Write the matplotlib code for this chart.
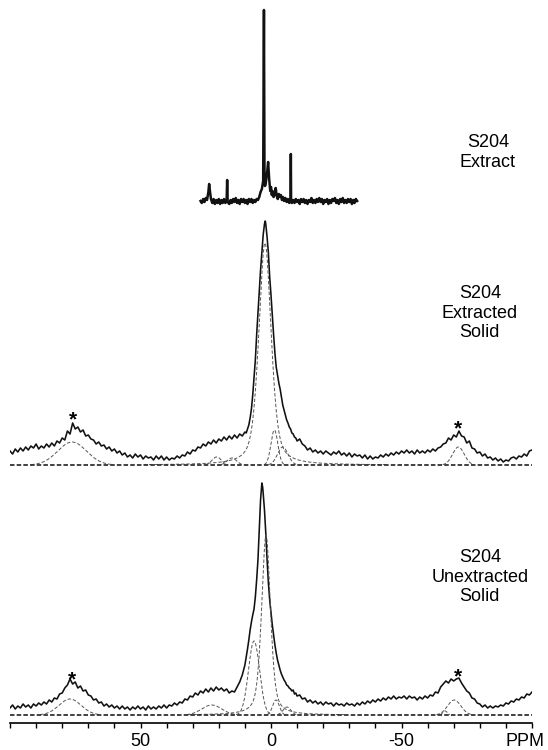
import matplotlib
matplotlib.use("Agg")
import matplotlib.pyplot as plt
import numpy as np

plt.rcParams['font.family'] = ['Liberation Sans', 'DejaVu Sans']

# ---- S204 Extract (solution spectrum, 27 to -33 ppm) ----
extract_ppm = [27, 26.5, 26, 25.5, 25, 24.5, 24, 23.7, 23.4, 23, 22.5, 22, 21.5, 21, 20.5, 20,
               19.5, 19, 18.5, 18, 17.5, 17, 16.8, 16.6, 16, 15.5, 15, 14.5, 14, 13.5, 13,
               12.5, 12, 11.5, 11, 10.5, 10, 9.5, 9, 8.5, 8, 7.5, 7, 6.5, 6, 5.5, 5, 4.5, 4,
               3.5, 3, 2.7, 2.5, 2.3, 2, 1.5, 1.1, 0.7, 0.3, 0, -0.3, -0.6, -1, -1.5, -1.8,
               -2.2, -2.6, -3, -3.4, -3.8, -4.2, -4.6, -5, -5.5, -6, -6.5, -7, -7.5, -7.6, -7.7,
               -8, -8.5, -9, -9.5, -10] + list(np.arange(-10.5, -33.1, -0.5))
extract_int = [0, -2, 2, -1, 3, 1, 9, 17, 10, 2, -2, 2, -3, 1, -2, 2,
               -3, 1, -2, 2, -2, 0, 21, -1, -3, 1, -2, 2, -1, 3, -2,
               1, -3, 2, -1, 2, -2, 1, -3, 2, -1, 2, -2, 1, -1, 2, 1, 4, 9,
               12, 20, 191, 30, 15, 18, 28, 39, 22, 10, 14, 6, 10, 4, 8, 13,
               5, 2, 7, 4, 6, 1, 4, 0, 3, -1, 2, -2, 1, 47, 0,
               -2, 1, -2, 2, -1,
               1, -3, 2, -1, 2, -2, 1, -3, 1, -1, 3, -2, 1, -2, 2, -1, 3, -1, 2, -3,
               1, -1, 2, -3, 1, -2, 2, 0, 3, -2, 1, -3, 2, -1, 3, -2, 1, -2, 2, -1,
               2, -3, 1, -2, 2, 0]

# ---- S204 Extracted Solid ----
exs_left = [14, 11, 16, 13, 17, 14, 18, 15, 19, 17,
            21, 16, 19, 17, 21, 18, 22, 19, 24, 22,
            27, 25, 34, 31, 42, 36, 38, 33, 35, 29,
            30, 26, 25, 21, 23, 19, 20, 16, 18, 14,
            16, 12, 14, 10, 12, 8, 10, 7, 11, 8,
            10, 6, 9, 7, 8, 5, 9, 6, 9, 5,
            8, 5, 7, 6, 9, 7, 10, 9, 13, 11,
            15, 14, 18, 17, 21, 19, 23, 21, 25, 22,
            26, 24, 28, 25, 29, 26, 30, 27, 31, 29,
            33]
exs_mid_ppm = [9.5, 9, 8.5, 8, 7.5, 7, 6.5, 6, 5.5, 5, 4.5, 4, 3.5, 3, 2.5, 2.2, 2, 1.5, 1, 0.5,
               0, -0.5, -1, -1.5, -2, -2.5, -3, -3.5, -4, -4.5, -5, -5.5, -6, -6.5, -7, -7.5,
               -8, -8.5, -9, -9.5]
exs_mid = [32, 36, 40, 47, 56, 70, 88, 105, 130, 152, 175, 195, 212, 230, 241, 244, 241, 228, 212, 188,
           170, 150, 130, 112, 98, 90, 82, 76, 68, 60, 55, 50, 45, 42, 38, 36,
           32, 31, 28, 27]
exs_right = [24, 26, 21, 19, 15, 17, 13, 15, 12, 14,
             11, 14, 12, 10, 13, 11, 14, 10, 12, 9,
             12, 8, 11, 9, 10, 7, 10, 6, 9, 6,
             8, 7, 10, 8, 11, 9, 12, 10, 13, 11,
             14, 12, 15, 12, 14, 11, 15, 12, 14, 12,
             15, 13, 16, 14, 17, 18, 21, 22, 27, 25,
             30, 28, 34, 29, 28, 22, 24, 17, 16, 12,
             13, 9, 11, 7, 8, 5, 7, 4, 6, 3,
             5, 4, 7, 8, 6, 9, 8, 11, 9, 14,
             15]
exs_fit_center = [76.2, 20.8, 15.0, 2.3, -1.3, -4.5, -71.8]
exs_fit_height = [23, 8, 7, 222, 35, 18, 18]
exs_fit_fwhm = [13, 4.2, 4.2, 5.6, 3.1, 4.7, 5.2]
exs_fit_lorentz = [0, 0, 0, 0.5, 0, 0, 0]

# ---- S204 Unextracted Solid ----
uns_left = [7, 10, 6, 9, 7, 11, 8, 10, 7, 11,
            9, 12, 10, 13, 11, 15, 13, 17, 16, 21,
            22, 27, 30, 36, 31, 33, 27, 29, 24, 25,
            20, 19, 15, 16, 12, 13, 9, 11, 8, 10,
            7, 9, 6, 9, 6, 8, 5, 8, 6, 9,
            6, 8, 5, 9, 6, 8, 6, 9, 7, 10,
            7, 10, 9, 12, 10, 13, 12, 16, 15, 19,
            18, 22, 20, 24, 22, 26, 23, 27, 24, 28,
            25, 27, 24, 26, 22, 24, 23, 28, 33, 40,
            50]
uns_mid_ppm = [9.5, 9, 8.5, 8, 7.5, 7, 6.5, 6, 5.5, 5, 4.5, 4, 3.5, 3.2, 3, 2.5, 2, 1.5, 1, 0.5,
               0, -0.5, -1, -1.5, -2, -2.5, -3, -3.5, -4, -4.5, -5, -5.5, -6, -6.5, -7, -7.5,
               -8, -8.5, -9, -9.5]
uns_mid = [58, 66, 75, 85, 93, 100, 106, 118, 135, 155, 185, 215, 232, 228, 222, 205, 182, 155, 132, 115,
           102, 90, 80, 70, 62, 55, 50, 45, 41, 38, 35, 33, 30, 29, 27, 26,
           24, 25, 21, 22]
uns_right = [19, 20, 16, 17, 13, 15, 12, 14, 11, 13,
             10, 13, 11, 12, 9, 12, 10, 11, 9, 12,
             10, 11, 9, 12, 10, 13, 11, 14, 12, 15,
             13, 16, 14, 17, 15, 18, 16, 19, 16, 18,
             17, 19, 16, 19, 17, 18, 15, 18, 16, 19,
             17, 20, 19, 23, 22, 28, 31, 34, 32, 36,
             34, 36, 37, 32, 28, 24, 22, 17, 16, 12,
             11, 8, 10, 7, 9, 7, 9, 8, 10, 9,
             12, 11, 14, 13, 16, 15, 18, 17, 21, 20,
             23]
uns_fit_center = [77.0, 22.7, 6.5, 1.9, -1.9, -6.1, -66.7, -70.2]
uns_fit_height = [16, 10, 74, 180, 15, 8, 4, 15]
uns_fit_fwhm = [10, 9, 5, 4, 3, 3.5, 2, 6]
uns_fit_lorentz = [0, 0, 0, 0.5, 0, 0, 0, 0]

tick_ppm = list(range(100, -101, -10))
tick_text = {50: '50', 0: '0', -50: '-50'}


def lineshape(ppm, center, height, fwhm, lfrac):
    u = (ppm - center) / fwhm
    g = np.exp(-4 * np.log(2) * u ** 2)
    lor = 1.0 / (1.0 + 4 * u ** 2)
    return height * ((1 - lfrac) * g + lfrac * lor)


def solid_trace(left, mid_ppm, mid, right):
    ppm = np.concatenate([np.arange(100, 9, -1), mid_ppm, np.arange(-10, -101, -1)])
    val = np.concatenate([left, mid, right])
    return ppm, val


fig = plt.figure(figsize=(5.48, 7.5), dpi=100)
ax = fig.add_axes([10 / 548, 27 / 750, 522 / 548, 723 / 750])
ax.set_xlim(100, -100)
ax.set_ylim(0, 723)

line_kw = dict(color='#111111', lw=1.15)
fit_kw = dict(color='#555555', lw=0.7, ls=(0, (3.5, 2)))
grid = np.linspace(100, -100, 2001)

# top: extract
ax.plot(extract_ppm, np.array(extract_int) + 522, color='#111111', lw=1.8)

# middle: extracted solid
base = 258
ppm, val = solid_trace(exs_left, exs_mid_ppm, exs_mid, exs_right)
ax.plot(ppm, val + base, **line_kw)
for c, h, w, lf in zip(exs_fit_center, exs_fit_height, exs_fit_fwhm, exs_fit_lorentz):
    y = lineshape(grid, c, h, w, lf)
    y = np.where(y > 0.4, y, np.nan)
    ax.plot(grid, y + base, **fit_kw)
ax.plot([100, -100], [base, base], color='#333333', lw=1.3, ls=(0, (2.5, 1.2)))

# bottom: unextracted solid
base = 8
ppm, val = solid_trace(uns_left, uns_mid_ppm, uns_mid, uns_right)
ax.plot(ppm, val + base, **line_kw)
for c, h, w, lf in zip(uns_fit_center, uns_fit_height, uns_fit_fwhm, uns_fit_lorentz):
    y = lineshape(grid, c, h, w, lf)
    y = np.where(y > 0.4, y, np.nan)
    ax.plot(grid, y + base, **fit_kw)
ax.plot([100, -100], [base, base], color='#333333', lw=1.3, ls=(0, (2.5, 1.2)))

# spinning sideband markers
for x, ypix in [(75.7, 414.5), (-71.8, 423.5), (76.4, 674.5), (-71.8, 671.5)]:
    ax.text(x, 723 - ypix - 11, '*', ha='center', va='baseline', fontsize=15, fontweight='bold')

# sample labels
ax.text(-83.1, 723 - 152.5, 'S204\nExtract', ha='center', va='center', fontsize=13, linespacing=1.2)
ax.text(-80.0, 723 - 313, 'S204\nExtracted\nSolid', ha='center', va='center', fontsize=13, linespacing=1.2)
ax.text(-80.0, 723 - 577, 'S204\nUnextracted\nSolid', ha='center', va='center', fontsize=13, linespacing=1.2)

# axis
for s in ['left', 'right', 'top']:
    ax.spines[s].set_visible(False)
ax.spines['bottom'].set_linewidth(1.2)
ax.set_yticks([])
ax.set_xticks(tick_ppm)
ax.set_xticklabels([tick_text.get(t, '') for t in tick_ppm])
ax.tick_params(axis='x', direction='out', length=3.3, width=1.0, pad=4, labelsize=13)
fig.text(525 / 548, 1 - 733 / 750, 'PPM', ha='center', va='top', fontsize=13)

fig.savefig('out.png', dpi=100)
